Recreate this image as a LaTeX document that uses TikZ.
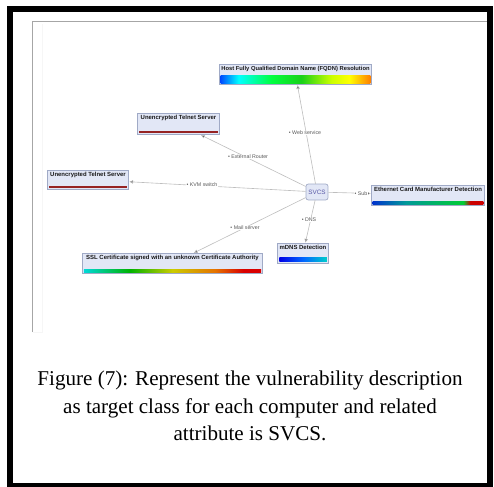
\documentclass[tikz,border=0pt]{standalone}
\usepackage{fontspec}
\setmainfont{Liberation Serif}
\newfontfamily\guifont{Liberation Sans}
\usetikzlibrary{arrows.meta}

\definecolor{boxfill}{RGB}{226,231,246}
\definecolor{boxline}{RGB}{160,170,198}
\definecolor{edgegray}{RGB}{190,190,190}
\definecolor{telred}{RGB}{150,35,35}

\pgfdeclarehorizontalshading{fqdnbar}{100bp}{color(0bp)=(blue!70!cyan); color(25bp)=(blue!70!cyan);
  color(31bp)=(cyan); color(42bp)=(green!75!cyan); color(52bp)=(green!80!black!90); color(62bp)=(yellow!80!green);
  color(68bp)=(yellow); color(75bp)=(orange); color(100bp)=(orange)}
\pgfdeclarehorizontalshading{ethbar}{100bp}{color(0bp)=(blue!60!teal); color(25bp)=(blue!60!teal);
  color(40bp)=(teal!80!cyan); color(66bp)=(green!60!teal); color(69bp)=(red!80!black); color(75bp)=(red!80!black); color(100bp)=(red!80!black)}
\pgfdeclarehorizontalshading{sslbar}{100bp}{color(0bp)=(cyan!70!teal); color(25bp)=(cyan!70!teal);
  color(38bp)=(green!70!black); color(50bp)=(yellow!80!black); color(62bp)=(orange!90!black); color(70bp)=(red!85!black);
  color(75bp)=(red!85!black); color(100bp)=(red!85!black)}
\pgfdeclarehorizontalshading{mdnsbar}{100bp}{color(0bp)=(blue!90!black); color(25bp)=(blue!90!black);
  color(50bp)=(blue!60!cyan); color(75bp)=(cyan!60!teal); color(100bp)=(cyan!60!teal)}

\tikzset{
  vuln/.style={draw=boxline, fill=boxfill, inner xsep=1pt, inner ysep=1pt,
    font=\guifont\fontsize{3.4}{3.6}\selectfont\bfseries, text=black!90,
    text height=2.5pt, text depth=7pt},
  attr/.style={draw=boxline, fill=boxfill, rounded corners=1.2pt,
    font=\guifont\fontsize{3.6}{4}\selectfont, text=blue!30!gray,
    minimum width=12.5pt, minimum height=9pt, inner sep=0.5pt},
  rel/.style={font=\guifont\fontsize{3}{3.4}\selectfont, text=black!65,
    fill=white, inner sep=0.3pt},
  caption/.style={font=\fontsize{12}{15.6}\selectfont, align=center, inner sep=0pt}
}

\begin{document}
\begin{tikzpicture}[x=0.02cm,y=-0.02cm]
\useasboundingbox (0,0) rectangle (494,487);

% outer frame and screenshot edge
\draw[line width=3.4pt] (10,9) rectangle (490,486);
\draw[gray!70, line width=0.6pt] (32.5,332) -- (32.5,21.5) -- (487,21.5);
\draw[gray!7, line width=0.5pt] (32.5,332) -- (42.5,332) -- (42.5,24);

% nodes
\node[attr] (svcs) at (317,192) {SVCS};

\node[vuln, minimum width=86.8pt, font=\guifont\fontsize{3.3}{3.6}\selectfont\bfseries] (fqdn) at (295.5,74.5) {Host Fully Qualified Domain Name (FQDN) Resolution};
\node[vuln, minimum width=47pt, text depth=7.6pt] (telup) at (178.5,124) {Unencrypted Telnet Server};
\node[vuln, minimum width=46.5pt, text depth=6.3pt] (telleft) at (88,179.5) {Unencrypted Telnet Server};
\node[vuln, minimum width=64.6pt, text depth=6.8pt] (eth) at (428,195) {Ethernet Card Manufacturer Detection};
\node[vuln, minimum width=102.6pt] (ssl) at (172.5,263.5) {SSL Certificate signed with an unknown Certificate Authority};
\node[vuln, minimum width=28.4pt, text depth=6.8pt] (mdns) at (303,253) {mDNS Detection};

% colour bars
\shade[shading=fqdnbar] ([xshift=1pt,yshift=0.7pt]fqdn.south west) rectangle ([xshift=-1pt,yshift=5.2pt]fqdn.south east);
\fill[telred] ([xshift=1.2pt,yshift=1.1pt]telup.south west) rectangle ([xshift=-1.2pt,yshift=2.3pt]telup.south east);
\fill[telred] ([xshift=1.2pt,yshift=0.8pt]telleft.south west) rectangle ([xshift=-1.2pt,yshift=2pt]telleft.south east);
\shade[shading=ethbar] ([xshift=1pt,yshift=0.6pt]eth.south west) rectangle ([xshift=-1pt,yshift=2.3pt]eth.south east);
\shade[shading=sslbar] ([xshift=1pt,yshift=0.6pt]ssl.south west) rectangle ([xshift=-1pt,yshift=2.6pt]ssl.south east);
\shade[shading=mdnsbar] ([xshift=1pt,yshift=1.1pt]mdns.south west) rectangle ([xshift=-1pt,yshift=3.4pt]mdns.south east);

% relations
\path[->, >={Latex[length=2.2pt,width=2.2pt]}, draw=edgegray, line width=0.35pt] (svcs) edge [] (fqdn);
\path[->, >={Latex[length=2.2pt,width=2.2pt]}, draw=edgegray, line width=0.35pt] (svcs) edge [] (telup);
\path[->, >={Latex[length=2.2pt,width=2.2pt]}, draw=edgegray, line width=0.35pt] (svcs) edge [] (telleft);
\path[->, >={Latex[length=2.2pt,width=2.2pt]}, draw=edgegray, line width=0.35pt] (svcs) edge [] (eth);
\path[->, >={Latex[length=2.2pt,width=2.2pt]}, draw=edgegray, line width=0.35pt] (svcs) edge [] (ssl);
\path[->, >={Latex[length=2.2pt,width=2.2pt]}, draw=edgegray, line width=0.35pt] (svcs) edge [] (mdns);

\node[rel] (lweb) at (305,133) {• Web service};
\node[rel] (lext) at (248,157) {• External Router};
\node[rel] (lkvm) at (202,185) {• KVM switch};
\node[rel] (lmail) at (245,228) {• Mail server};
\node[rel] (ldns) at (309,220) {• DNS};
\node[rel] (lsub) at (361,193.5) {• Sub};

% caption
\node[caption] (cap) at (250,406) {Figure (7): Represent the vulnerability description\\
  as target class for each computer and related\\ attribute is SVCS.};
\end{tikzpicture}
\end{document}
